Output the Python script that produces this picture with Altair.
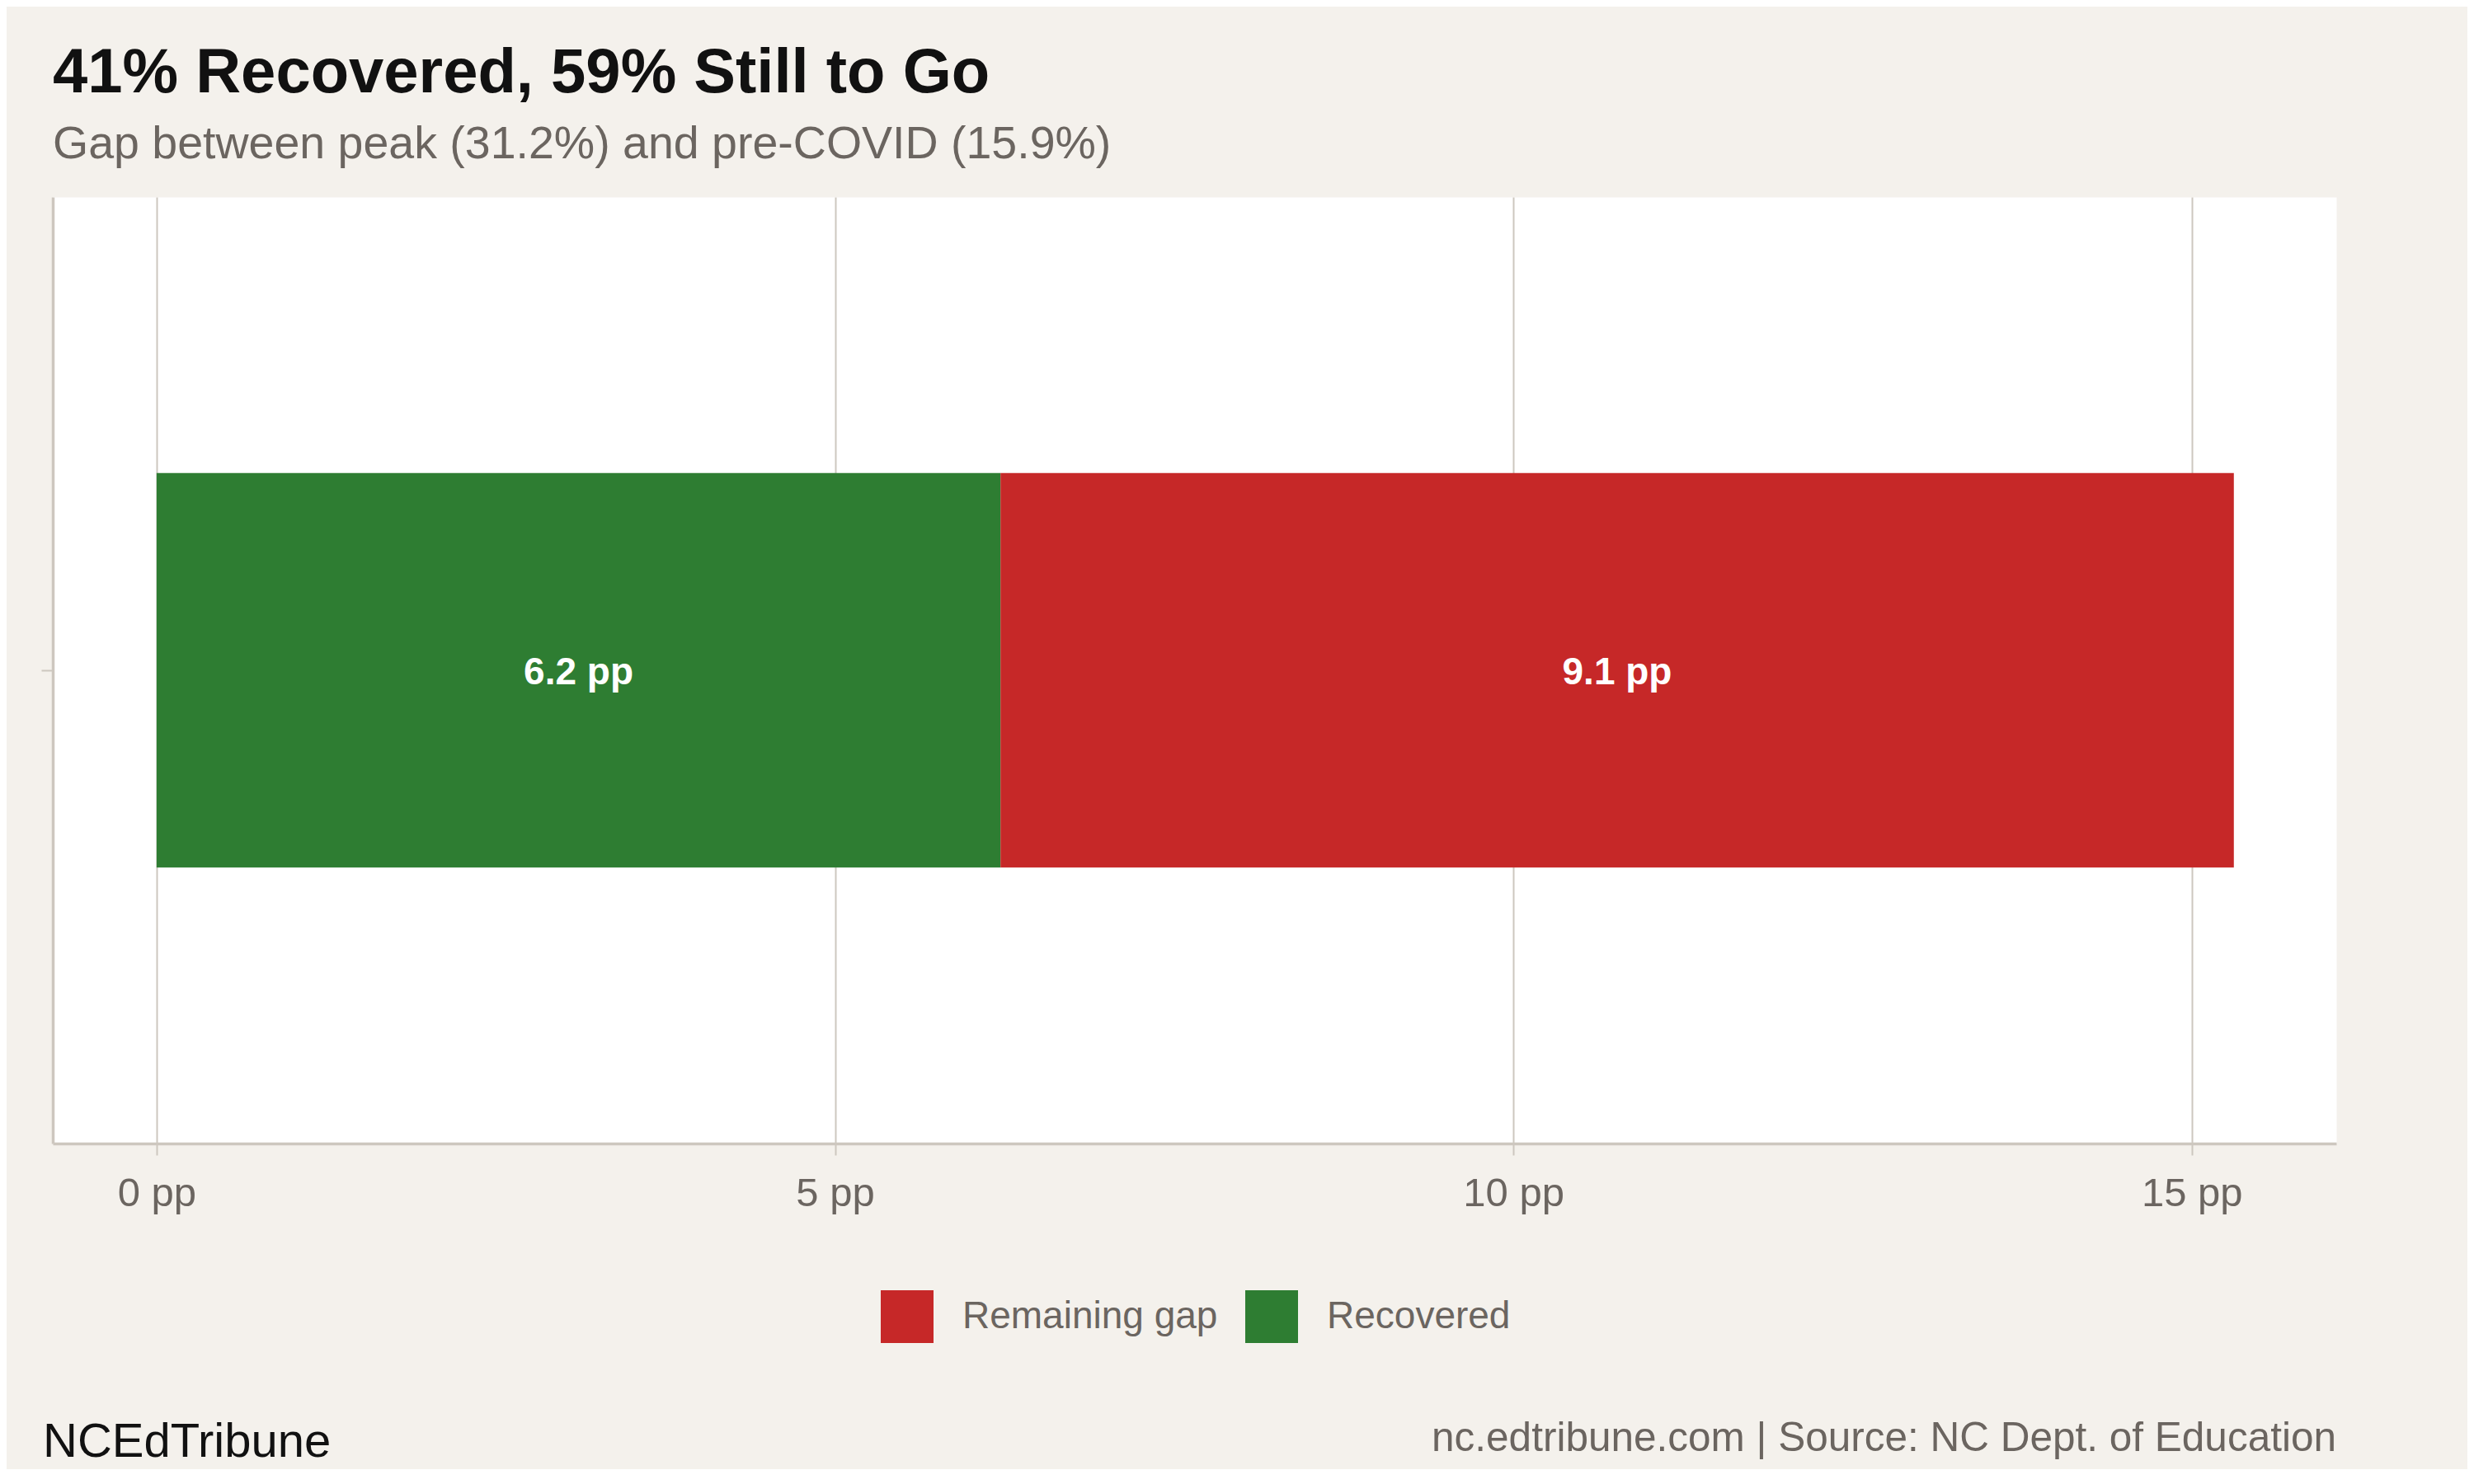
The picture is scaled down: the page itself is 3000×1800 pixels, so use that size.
import altair as alt
import pandas as pd

# ---- data ----
segments = ["Recovered", "Remaining gap"]
values = [6.22, 9.09]
bar_labels = ["6.2 pp", "9.1 pp"]
x_ticks = [0, 5, 10, 15]
legend_order = ["Remaining gap", "Recovered"]
legend_colors = ["#c62828", "#2e7d32"]
title_text = "41% Recovered, 59% Still to Go"
subtitle_text = "Gap between peak (31.2%) and pre-COVID (15.9%)"
brand_text = "NCEdTribune"
source_text = "nc.edtribune.com | Source: NC Dept. of Education"

df = pd.DataFrame({
    "segment": segments,
    "value": values,
    "label": bar_labels,
    "idx": list(range(len(segments))),
    "row": ["gap"] * len(segments),
})

FONT = "Liberation Sans"
GREY = "#6b6560"
GRID = "#cdc7bf"
BG = "#f4f1ec"

W, H = 2769, 1148

x_scale = alt.Scale(domain=[-0.765, 16.065], nice=False, zero=False)
y_scale = alt.Scale(paddingInner=0, paddingOuter=0.7)

x_axis = alt.Axis(
    values=x_ticks, labelExpr="datum.value + ' pp'", title=None,
    grid=True, gridColor=GRID, gridWidth=2,
    ticks=True, tickSize=14, tickColor=GRID, tickWidth=2,
    domain=True, domainColor=GRID, domainWidth=3.5,
    labelFont=FONT, labelFontSize=49, labelColor=GREY, labelPadding=22,
)
y_axis = alt.Axis(
    title=None, labels=False, ticks=True, tickSize=14, tickColor=GRID,
    tickWidth=2, domain=True, domainColor=GRID, domainWidth=3.5, grid=False,
)

base = (
    alt.Chart(df)
    .transform_window(end="sum(value)", sort=[alt.SortField("idx")], frame=[None, 0])
    .transform_calculate(start="datum.end - datum.value")
    .transform_calculate(mid="(datum.start + datum.end) / 2")
)

bars = base.mark_bar().encode(
    x=alt.X("start:Q", scale=x_scale, axis=x_axis),
    x2="end:Q",
    y=alt.Y("row:N", scale=y_scale, axis=y_axis),
    color=alt.Color(
        "segment:N",
        scale=alt.Scale(domain=legend_order, range=legend_colors),
        legend=alt.Legend(
            title=None, orient="none", direction="horizontal",
            legendX=1004, legendY=1326, padding=0,
            symbolType="square", symbolSize=4096, symbolStrokeWidth=0,
            symbolOpacity=1, labelFont=FONT, labelFontSize=46, labelLimit=0,
            labelColor=GREY, labelOffset=35, columnPadding=33,
        ),
    ),
)

texts = base.mark_text(
    color="white", fontSize=46, fontWeight="bold", font=FONT, baseline="middle", dy=3
).encode(
    x=alt.X("mid:Q", scale=x_scale),
    y=alt.Y("row:N", scale=y_scale),
    text="label:N",
)

cap_left = alt.Chart(pd.DataFrame({"t": [brand_text]})).mark_text(
    align="left", baseline="alphabetic", fontSize=58, font=FONT, color="#111111"
).encode(x=alt.value(-12), y=alt.value(1528), text="t:N")

cap_right = alt.Chart(pd.DataFrame({"t": [source_text]})).mark_text(
    align="right", baseline="alphabetic", fontSize=49.5, font=FONT, color=GREY
).encode(x=alt.value(W), y=alt.value(1521), text="t:N")

chart = (
    alt.layer(bars, texts, cap_left, cap_right)
    .properties(
        width=W, height=H,
        autosize=alt.AutoSizeParams(type="none"),
        padding={"left": 56, "top": 231, "right": 159, "bottom": 395},
        background=BG,
        title=alt.TitleParams(
            text=title_text, subtitle=subtitle_text, anchor="start", frame="group",
            font=FONT, fontSize=76, fontWeight="bold", color="#111111",
            subtitleFont=FONT, subtitleFontSize=55.5, subtitleColor=GREY,
            offset=35, subtitlePadding=20,
        ),
    )
    .configure_view(fill="white", strokeOpacity=0)
)

chart.save("out.html", embed_options={"renderer": "svg", "actions": False})
